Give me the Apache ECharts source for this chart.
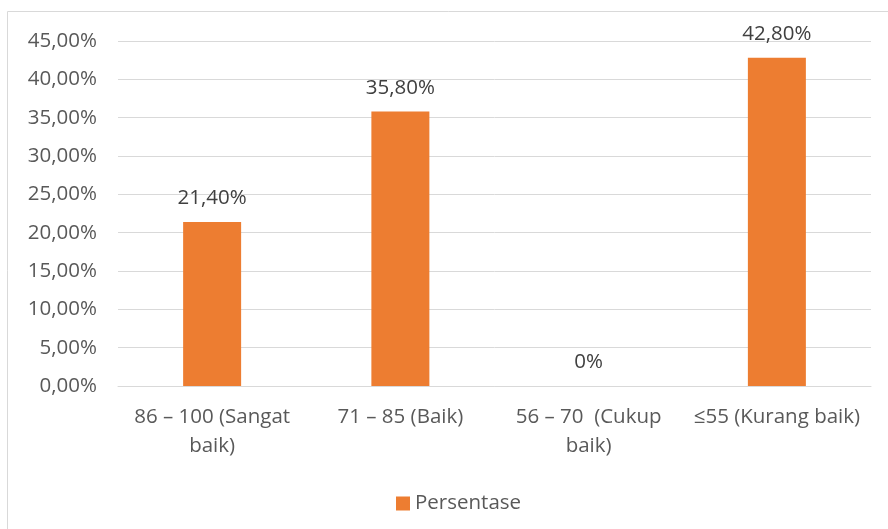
<!DOCTYPE html>
<html>
<head>
<meta charset="utf-8">
<script src="https://cdn.jsdelivr.net/npm/echarts@6/dist/echarts.min.js"></script>
<style>
html,body{margin:0;padding:0;background:#fff;}
#c{width:888px;height:529px;}
</style>
</head>
<body>
<div id="c"></div>
<script>
const categories = ["86 – 100 (Sangat\nbaik)", "71 – 85 (Baik)", "56 – 70  (Cukup\nbaik)", "≤55 (Kurang baik)"];
const values = [21.4, 35.8, 0, 42.8];
const valueLabels = ["21,40%", "35,80%", "0%", "42,80%"];
const seriesName = "Persentase";
const yMin = 0, yMax = 45, yStep = 5;

const FONT = "'Open Sans', sans-serif";
const FS = 20.5;
const chart = echarts.init(document.getElementById('c'));
chart.setOption({
  animation: false,
  graphic: [{
    type: 'rect', silent: true,
    shape: {x: 7.5, y: 11.5, width: 1000, height: 1000},
    style: {fill: 'none', stroke: '#d9d9d9', lineWidth: 1}
  }],
  grid: {left: 118, right: 17, top: 41, bottom: 143},
  legend: {
    data: [seriesName], top: 488, left: 391,
    itemWidth: 14, itemHeight: 14, icon: 'rect', itemGap: 6,
    textStyle: {fontFamily: FONT, fontSize: FS, color: '#595959'}
  },
  xAxis: {
    type: 'category', data: categories,
    axisLine: {lineStyle: {color: '#d9d9d9', width: 1}},
    axisTick: {show: false},
    axisLabel: {fontFamily: FONT, fontSize: FS, color: '#595959', lineHeight: 29, margin: 17, interval: 0}
  },
  yAxis: {
    type: 'value', min: yMin, max: yMax, interval: yStep,
    axisLine: {show: false}, axisTick: {show: false},
    splitLine: {lineStyle: {color: '#d9d9d9', width: 1}},
    axisLabel: {fontFamily: FONT, fontSize: FS, color: '#595959', margin: 21,
      formatter: v => v.toFixed(2).replace('.', ',') + '%'}
  },
  series: [{
    name: seriesName, type: 'bar', data: values, barWidth: 58,
    itemStyle: {color: '#ed7d31'},
    label: {show: true, position: 'top', distance: 13, fontFamily: FONT, fontSize: FS, color: '#404040',
      formatter: p => valueLabels[p.dataIndex]}
  }]
});
</script>
</body>
</html>
